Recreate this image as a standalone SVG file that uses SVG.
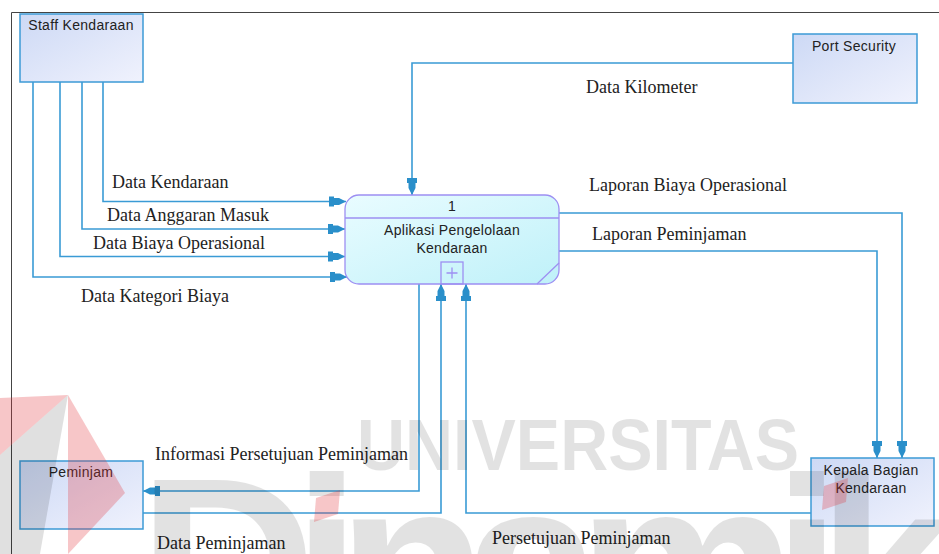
<svg xmlns="http://www.w3.org/2000/svg" width="939" height="554" viewBox="0 0 939 554">
  <defs>
    <linearGradient id="entityFill" x1="0" y1="0" x2="1" y2="1">
      <stop offset="0" stop-color="#cdd9f5"/>
      <stop offset="1" stop-color="#f0f2fd"/>
    </linearGradient>
    <linearGradient id="processFill" x1="0" y1="0" x2="1" y2="1">
      <stop offset="0" stop-color="#e9fcff"/>
      <stop offset="1" stop-color="#bff1f9"/>
    </linearGradient>
    <marker id="arrow" markerUnits="userSpaceOnUse" orient="auto" viewBox="-18 -6 19 12" refX="0" refY="0" markerWidth="19" markerHeight="12">
      <path d="M0,0 L-7,-3.5 L-12,-3.5 L-12,-5 L-17,-5 L-17,5 L-12,5 L-12,3.5 L-7,3.5 Z" fill="#2a8fca"/>
    </marker>
    <style>
      .frame { stroke: #444; stroke-width: 1; fill: none; }
      .entity rect { fill: url(#entityFill); stroke: #3d9ad6; stroke-width: 1.5; }
      .entity text, .process text { font-family: "Liberation Sans", Arial, sans-serif; font-size: 14px; letter-spacing: 0.3px; fill: #222; text-anchor: middle; }
      .process .shape { fill: url(#processFill); stroke: #9d8ff2; stroke-width: 1.3; }
      .process .line { stroke: #9d8ff2; stroke-width: 1.3; fill: none; }
      .flow { fill: none; stroke: #3a9bd5; stroke-width: 1.6; marker-end: url(#arrow); }
      .label { font-family: "Liberation Serif", "Times New Roman", serif; font-size: 18px; fill: #222; }
      .wm { font-family: "Liberation Sans", Arial, sans-serif; font-weight: bold; fill: #000; opacity: 0.11; }
      .wmred { fill: #e2333a; opacity: 0.28; }
      .wmgray { fill: #000; opacity: 0.12; }
    </style>
  </defs>

  <rect width="939" height="554" fill="#ffffff"/>

  <!-- page frame -->
  <path class="frame" d="M11.5,554 V12.5 H939"/>

  <!-- data flows -->
  <g id="connectors">
    <path class="flow" d="M103,82 V201.5 H346"/>
    <path class="flow" d="M82,82 V229 H345"/>
    <path class="flow" d="M60,82 V256.5 H345"/>
    <path class="flow" d="M33,82 V277 H347"/>
    <path class="flow" d="M793,63 H412 V195"/>
    <path class="flow" d="M559,213 H902 V458"/>
    <path class="flow" d="M559,251 H877 V458"/>
    <path class="flow" d="M419,284 V491 H143"/>
    <path class="flow" d="M143,513 H441 V284"/>
    <path class="flow" d="M811,513 H466 V284"/>
  </g>

  <!-- flow labels -->
  <g id="labels">
    <text class="label" x="112" y="188">Data Kendaraan</text>
    <text class="label" x="107" y="221">Data Anggaran Masuk</text>
    <text class="label" x="93" y="249">Data Biaya Operasional</text>
    <text class="label" x="81" y="302">Data Kategori Biaya</text>
    <text class="label" x="586" y="93">Data Kilometer</text>
    <text class="label" x="589" y="191">Laporan Biaya Operasional</text>
    <text class="label" x="592" y="240">Laporan Peminjaman</text>
    <text class="label" x="155" y="460">Informasi Persetujuan Peminjaman</text>
    <text class="label" x="157" y="549">Data Peminjaman</text>
    <text class="label" x="492" y="544">Persetujuan Peminjaman</text>
  </g>

  <!-- external entities -->
  <g id="staff-kendaraan" class="entity">
    <rect x="20" y="14" width="123" height="68"/>
    <text x="81" y="30">Staff Kendaraan</text>
  </g>
  <g id="port-security" class="entity">
    <rect x="793" y="34" width="124" height="69"/>
    <text x="854" y="51">Port Security</text>
  </g>
  <g id="peminjam" class="entity">
    <rect x="20" y="461" width="123" height="68"/>
    <text x="81" y="477">Peminjam</text>
  </g>
  <g id="kepala-bagian" class="entity">
    <rect x="811" y="458" width="123" height="68"/>
    <text x="871" y="475">Kepala Bagian</text>
    <text x="871" y="493">Kendaraan</text>
  </g>

  <!-- process 1 -->
  <g id="process-1" class="process">
    <rect class="shape" x="345" y="195" width="214" height="89" rx="14" ry="14"/>
    <path class="line" d="M345,218 H559"/>
    <path class="line" d="M537,284 L559,263"/>
    <rect class="line" x="441" y="262" width="22" height="22"/>
    <path class="line" d="M446.5,273 H457.5 M452,267.5 V278.5"/>
    <text x="452" y="211">1</text>
    <text x="452" y="235">Aplikasi Pengelolaan</text>
    <text x="452" y="253">Kendaraan</text>
  </g>

  <!-- university watermark -->
  <g id="watermark">
    <polygon class="wmred" points="68,395 0,398 0,455"/>
    <polygon class="wmgray" points="68,395 0,455 0,554 40,554"/>
    <polygon class="wmred" points="68,395 125,493 68,554"/>
    <text class="wm" x="357" y="470" font-size="72" textLength="442" lengthAdjust="spacingAndGlyphs">UNIVERSITAS</text>
    <text class="wm" x="138" y="650" font-size="247" letter-spacing="-24">Dinamika</text>
    <polygon class="wmred" points="316,498 340,490 338,514 314,522"/>
    <polygon class="wmred" points="824,486 848,478 846,502 822,510"/>
  </g>
</svg>
